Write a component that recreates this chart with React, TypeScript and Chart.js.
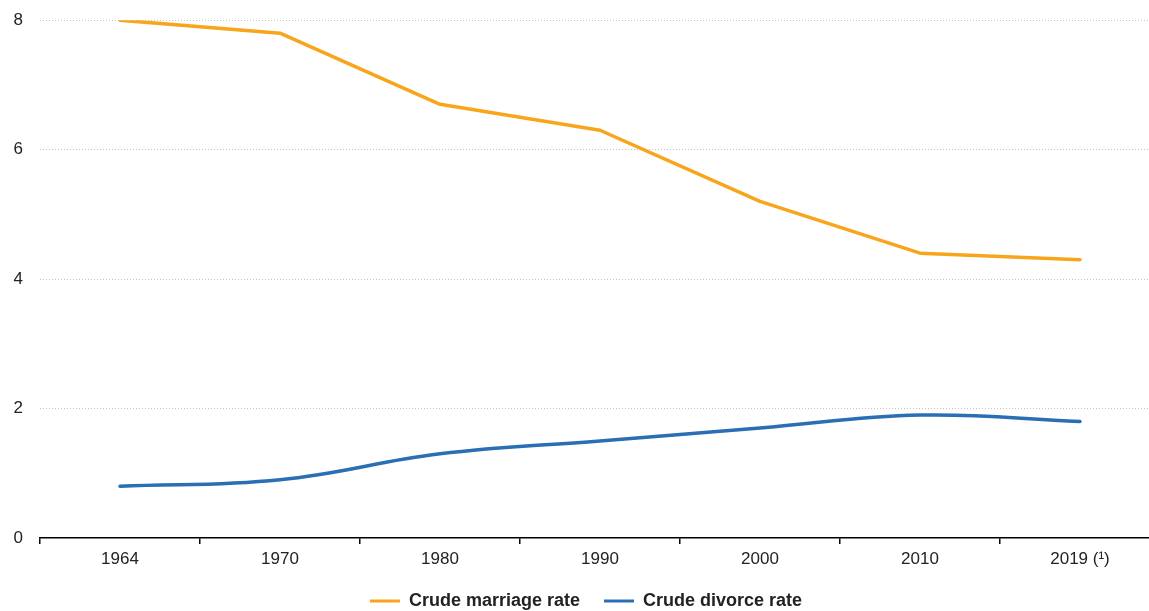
import React, { useEffect, useRef } from "react";
import { Chart, registerables } from "chart.js";

Chart.register(...registerables);

const categories = ["1964", "1970", "1980", "1990", "2000", "2010", "2019 (¹)"];
const marriageRate = [8.0, 7.8, 6.7, 6.3, 5.2, 4.4, 4.3];
const divorceRate = [0.8, 0.9, 1.3, 1.5, 1.7, 1.9, 1.8];
const seriesLabels = ["Crude marriage rate", "Crude divorce rate"];
const yMin = 0;
const yMax = 8;
const yStep = 2;

const ORANGE = "#F8A51B";
const BLUE = "#2A6EB4";
const FONT = "'Liberation Sans', Arial, sans-serif";
const LEGEND_PAD = 24;
const CANVAS_W = 1200;
const CANVAS_H = 620;

export default function App() {
  const ref = useRef<HTMLCanvasElement | null>(null);

  useEffect(() => {
    if (!ref.current) return;
    const chart = new Chart(ref.current, {
      type: "line",
      data: {
        labels: categories,
        datasets: [
          {
            label: seriesLabels[0],
            data: marriageRate,
            borderColor: ORANGE,
            backgroundColor: ORANGE,
            borderWidth: 3.5,
            borderCapStyle: "round",
            borderJoinStyle: "round",
            pointRadius: 0,
            pointHoverRadius: 0,
            tension: 0,
          },
          {
            label: seriesLabels[1],
            data: divorceRate,
            borderColor: BLUE,
            backgroundColor: BLUE,
            borderWidth: 3.5,
            borderCapStyle: "round",
            borderJoinStyle: "round",
            pointRadius: 0,
            pointHoverRadius: 0,
            tension: 0.4,
          },
        ],
      },
      options: {
        animation: false,
        responsive: false,
        devicePixelRatio: 1,
        layout: { padding: { top: 0, left: 12, right: 40, bottom: 0 } },
        plugins: {
          tooltip: { enabled: false },
          legend: {
            position: "bottom",
            labels: {
              boxWidth: 30,
              boxHeight: 3,
              padding: LEGEND_PAD,
              color: "#222",
              font: { family: FONT, size: 18, weight: "bold" },
              generateLabels: (c: any) =>
                (Chart.defaults.plugins.legend.labels as any)
                  .generateLabels(c)
                  .map((l: any) => ({ ...l, lineWidth: 0 })),
            },
          },
        },
        scales: {
          x: {
            offset: true,
            grid: {
              offset: true,
              drawOnChartArea: false,
              drawTicks: true,
              tickLength: 6,
              color: "#000",
              lineWidth: 1.5,
            },
            border: { display: true, color: "#000", width: 1.5 },
            ticks: {
              color: "#222",
              padding: 5,
              maxRotation: 0,
              font: { family: FONT, size: 17 },
            },
            afterFit: (s: any) => {
              s.height = 30;
            },
          },
          y: {
            min: yMin,
            max: yMax,
            ticks: {
              stepSize: yStep,
              color: "#222",
              padding: 10,
              font: { family: FONT, size: 17 },
            },
            grid: {
              drawTicks: true,
              tickLength: 7,
              tickColor: "rgba(0,0,0,0)",
              color: (ctx: any) => (ctx.tick && ctx.tick.value === 0 ? "rgba(0,0,0,0)" : "#c4c4c4"),
              lineWidth: 1,
            },
            border: { display: false, dash: [1, 2] },
            afterFit: (s: any) => {
              s.width = 28;
            },
          },
        },
      } as any,
    });
    return () => chart.destroy();
  }, []);

  return (
    <div
      style={{
        position: "absolute",
        left: 0,
        top: 0,
        width: 1149,
        height: 611,
        overflow: "hidden",
        background: "#fff",
      }}
    >
      <canvas
        ref={ref}
        width={CANVAS_W}
        height={CANVAS_H}
        style={{ width: CANVAS_W, height: CANVAS_H, display: "block" }}
      />
    </div>
  );
}
